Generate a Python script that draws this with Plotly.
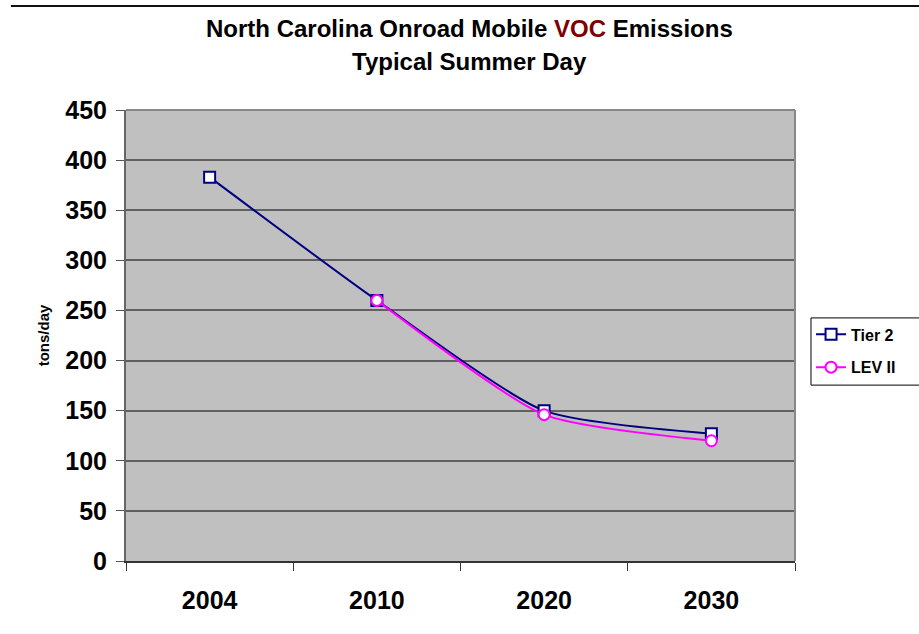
import plotly.graph_objects as go

# Onroad mobile VOC emissions, tons per typical summer day
years = ["2004", "2010", "2020", "2030"]
tier2 = [383, 260, 150, 127]
lev2 = [None, 260, 146, 120]
y_ticks = [0, 50, 100, 150, 200, 250, 300, 350, 400, 450]

FONT = "Liberation Sans, Arial, sans-serif"

fig = go.Figure()

fig.add_trace(go.Scatter(
    x=years, y=tier2, name="Tier 2", mode="lines+markers",
    legendgroup="a",
    line=dict(color="#000080", width=2, shape="spline", smoothing=0.6),
    marker=dict(symbol="square", size=11, color="white",
                line=dict(color="#000080", width=2)),
))
fig.add_trace(go.Scatter(
    x=years, y=lev2, name="LEV II", mode="lines+markers",
    legendgroup="b",
    line=dict(color="#FF00FF", width=2, shape="spline", smoothing=0.6),
    marker=dict(symbol="circle", size=11, color="white",
                line=dict(color="#FF00FF", width=2)),
))

fig.update_layout(
    width=919, height=634,
    margin=dict(l=126, r=124, t=110, b=73),
    paper_bgcolor="white",
    plot_bgcolor="#C0C0C0",
    font=dict(family=FONT, color="black"),
    xaxis=dict(
        type="category", categoryorder="array", categoryarray=years,
        tickson="boundaries", ticks="outside", ticklen=8, tickwidth=1,
        tickcolor="#333333",
        showline=True, linecolor="#333333", linewidth=2,
        showgrid=False, zeroline=False,
        ticklabelstandoff=16,
        tickfont=dict(family=FONT, size=25, color="black", weight="bold"),
        range=[-0.5, 3.5],
    ),
    yaxis=dict(
        range=[0, 450], tickvals=y_ticks,
        ticks="outside", ticklen=8, tickwidth=1, tickcolor="#555555",
        showline=True, linecolor="#666666", linewidth=2,
        showgrid=True, gridcolor="#606060", gridwidth=1.5,
        zeroline=False,
        ticklabelstandoff=4,
        tickfont=dict(family=FONT, size=25, color="black", weight="bold"),
        title=dict(text="<b>tons/day</b>", standoff=12,
                   font=dict(family=FONT, size=15, color="black")),
    ),
    legend=dict(
        x=1.024, xanchor="left", y=0.54, yanchor="top",
        bgcolor="rgba(0,0,0,0)", borderwidth=0,
        font=dict(family=FONT, size=16, color="black", weight="bold"),
        traceorder="grouped", tracegroupgap=9,
    ),
    showlegend=True,
)

# Legend frame, running off the right edge of the page
fig.add_shape(type="rect", xref="paper", yref="paper",
              x0=1.0239, x1=1.25, y0=0.390, y1=0.539,
              fillcolor="white", line=dict(color="black", width=1))

# Two-line chart heading
fig.add_annotation(
    text="<b>North Carolina Onroad Mobile <span style='color:#800000'>VOC</span> Emissions</b>",
    xref="paper", yref="paper", x=0.514, y=1.1818,
    xanchor="center", yanchor="middle", showarrow=False,
    font=dict(family=FONT, size=24, color="black"),
)
fig.add_annotation(
    text="<b>Typical Summer Day</b>",
    xref="paper", yref="paper", x=0.514, y=1.1086,
    xanchor="center", yanchor="middle", showarrow=False,
    font=dict(family=FONT, size=24, color="black"),
)

# Plot-area frame on the top and right edges
fig.add_shape(type="line", xref="paper", yref="paper",
              x0=0, x1=1, y0=1, y1=1, line=dict(color="#888888", width=2))
fig.add_shape(type="line", xref="paper", yref="paper",
              x0=1, x1=1, y0=0, y1=1, line=dict(color="#888888", width=2))

# Rule across the top of the page
fig.add_shape(type="line", xref="paper", yref="paper",
              x0=-0.172, x1=1.2, y0=1.2306, y1=1.2306,
              line=dict(color="#111111", width=2))

fig.write_html("out.html")
